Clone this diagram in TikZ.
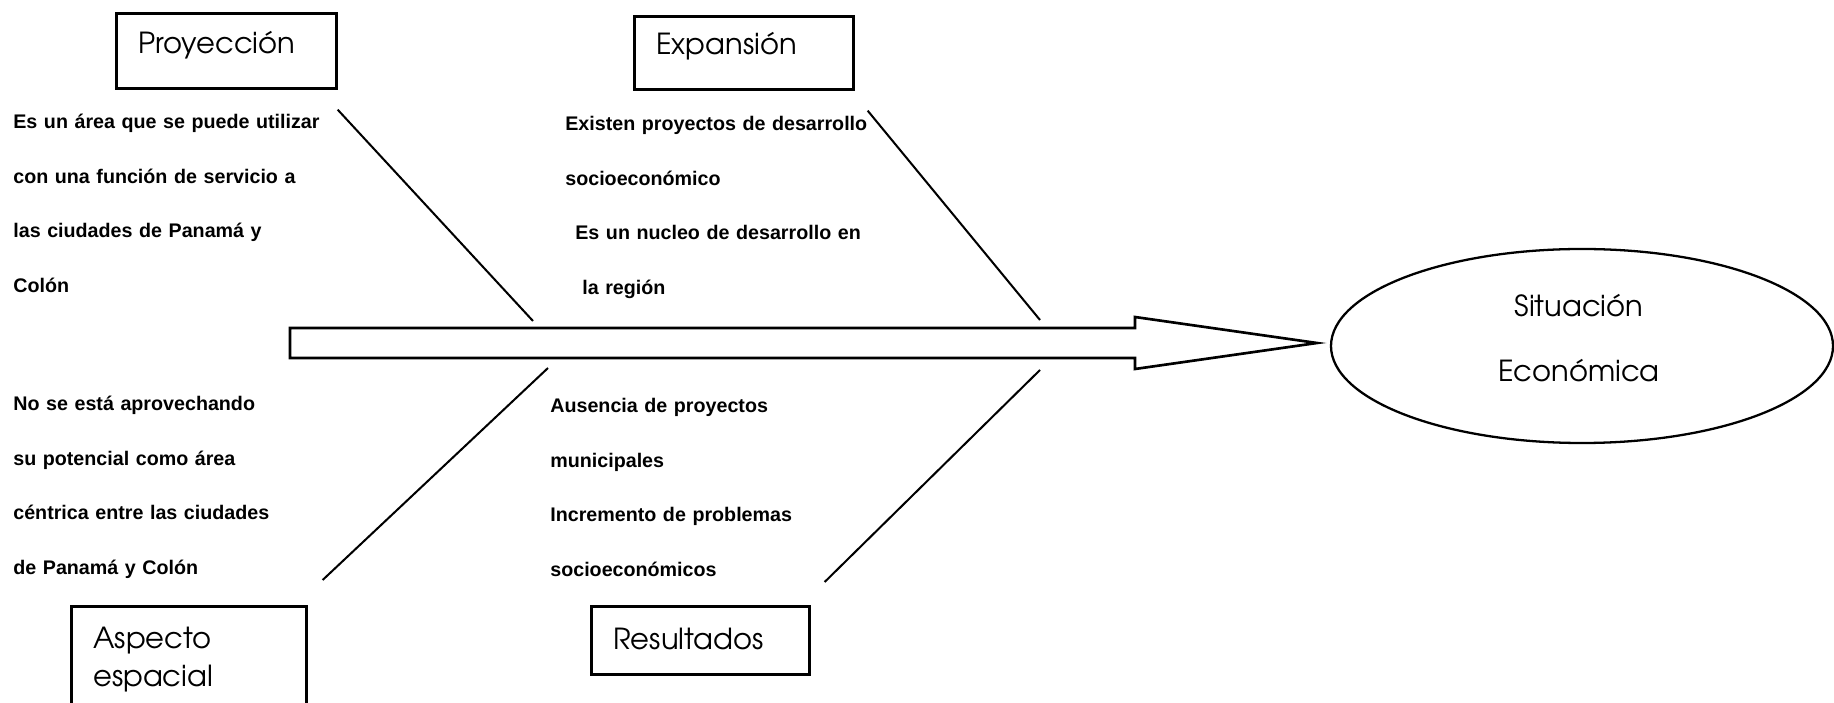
\documentclass[tikz,border=0pt]{standalone}
\usepackage{fontspec}
\setmainfont{Liberation Sans}
\newfontfamily\gothic{TeX Gyre Adventor}
\usepackage{tikz}
\usetikzlibrary{positioning, shapes.geometric}

\begin{document}
\begin{tikzpicture}[x=0.2mm, y=-0.2mm,
    catbox/.style n args={3}{draw, line width=1.5pt, anchor=north west, align=left, inner xsep=4.4mm, inner ysep=0pt, text width=#1, text height=#2, text depth=#3, font=\gothic\fontsize{16.5}{21.5}\selectfont},
    note/.style={anchor=base west, align=left, text width=80mm, inner sep=0pt, font=\bfseries\fontsize{11.2}{31}\selectfont},
    bone/.style={line width=1.15pt}]
    \useasboundingbox (0,0) rectangle (1834,703);
    \clip (0,0) rectangle (1834,703);

    % categories
    \node[catbox={35.2mm}{8mm}{7mm}] (proy) at (115,12) {Proyección};
    \node[catbox={35mm}{7.6mm}{7mm}] (expa) at (633,15) {Expansión};
    \node[catbox={38.2mm}{8.4mm}{14.6mm}] (aspe) at (70,605) {Aspecto\\espacial};
    \node[catbox={34.8mm}{8.6mm}{5mm}] (resu) at (590,605) {Resultados};

    % causes
    \node[note] (proytxt) at (13,129) {Es un área que se puede utilizar\\con una función de servicio a\\las ciudades de Panamá y\\Colón};
    \node[note] (expatxt) at (565,131) {Existen proyectos de desarrollo\\socioeconómico\\\hspace*{2mm}Es un nucleo de desarrollo en\\\hspace*{3.4mm}la región};
    \node[note] (aspetxt) at (13,411) {No se está aprovechando\\su potencial como área\\céntrica entre las ciudades\\de Panamá y Colón};
    \node[note] (resutxt) at (550,413) {Ausencia de proyectos\\municipales\\Incremento de problemas\\socioeconómicos};

    % effect
    \node[draw, ellipse, line width=1.3pt, minimum width=100.4mm, minimum height=38.8mm] (situ) at (1582,346) {};
    \node[align=center, font=\gothic\fontsize{16.5}{37}\selectfont] (situtxt) at (1579,338) {Situación\\Económica};

    % spine
    \draw[line width=1.5pt, line join=miter] (290,328) -- (1135,328) -- (1135,317) -- (1317,343) -- (1135,369) -- (1135,358) -- (290,358) -- cycle;
    \coordinate (j1) at (533,321);
    \coordinate (j2) at (1040,320);
    \coordinate (j3) at (548,368);
    \coordinate (j4) at (1040,370);

    \draw[bone] ([yshift=-4mm]proy.south east) -- (j1);
    \draw[bone] ([xshift=2.6mm, yshift=-4mm]expa.south east) -- (j2);
    \draw[bone] ([xshift=3mm, yshift=5mm]aspe.north east) -- (j3);
    \draw[bone] ([xshift=2.8mm, yshift=4.6mm]resu.north east) -- (j4);
\end{tikzpicture}
\end{document}
